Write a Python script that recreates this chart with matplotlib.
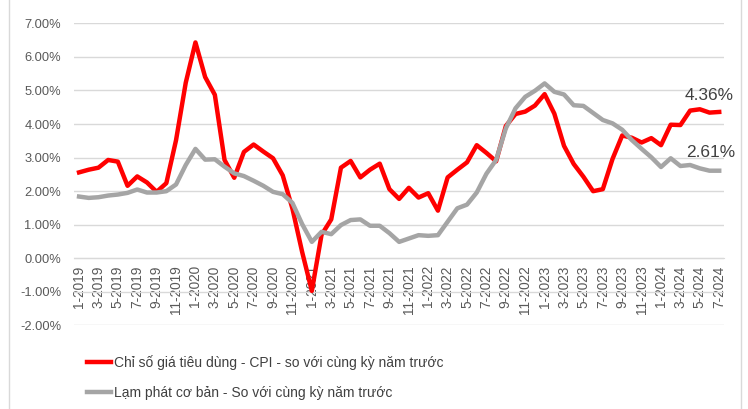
import matplotlib.pyplot as plt
import numpy as np
from matplotlib.lines import Line2D

# monthly labels 1-2019 .. 7-2024
months = ["{}-{}".format(m, y) for y in range(2019, 2025) for m in range(1, 13)][:67]

# CPI, yoy (%)
cpi = [2.56, 2.64, 2.70, 2.93, 2.88, 2.16, 2.44, 2.26, 1.98, 2.24, 3.52, 5.23,
       6.43, 5.40, 4.87, 2.93, 2.40, 3.17, 3.39, 3.18, 2.98, 2.47, 1.48, 0.19,
       -0.97, 0.70, 1.16, 2.70, 2.90, 2.41, 2.64, 2.82, 2.06, 1.77, 2.10, 1.81,
       1.94, 1.42, 2.41, 2.64, 2.86, 3.37, 3.14, 2.89, 3.94, 4.30, 4.37, 4.55,
       4.89, 4.31, 3.35, 2.81, 2.43, 2.00, 2.06, 2.96, 3.66, 3.59, 3.45, 3.58,
       3.37, 3.98, 3.97, 4.40, 4.44, 4.34, 4.36]

# core inflation, yoy (%)
core = [1.84, 1.80, 1.82, 1.87, 1.90, 1.95, 2.05, 1.96, 1.96, 2.00, 2.20, 2.78,
        3.26, 2.94, 2.95, 2.73, 2.53, 2.45, 2.31, 2.16, 1.98, 1.91, 1.65, 1.02,
        0.49, 0.79, 0.72, 0.99, 1.14, 1.16, 0.97, 0.97, 0.75, 0.49, 0.59, 0.69,
        0.67, 0.69, 1.09, 1.49, 1.60, 1.96, 2.52, 2.93, 3.87, 4.47, 4.81, 4.99,
        5.21, 4.96, 4.88, 4.56, 4.54, 4.33, 4.12, 4.02, 3.83, 3.52, 3.26, 3.01,
        2.72, 2.98, 2.75, 2.78, 2.68, 2.61, 2.61]

labels = ["Chỉ số giá tiêu dùng - CPI - so với cùng kỳ năm trước",
          "Lạm phát cơ bản - So với cùng kỳ năm trước"]

plt.rcParams["font.family"] = ["Liberation Sans", "DejaVu Sans"]
txt = "#595959"

fig = plt.figure(figsize=(7.48, 4.09), dpi=100)
ax = fig.add_axes([0.0992, 0.2042, 0.8688, 0.7388])

x = np.arange(len(months))
ax.plot(x, cpi, color="#ff0000", lw=3.2, label=labels[0], zorder=3)
ax.plot(x, core, color="#a5a5a5", lw=3.2, label=labels[1], zorder=3)

ax.set_xlim(-0.5, len(months) - 0.5)
ax.set_ylim(-2, 7)
ax.set_yticks(np.arange(-2, 8, 1))
ax.set_yticklabels(["{:.2f}%".format(v) for v in np.arange(-2, 8, 1)])
ax.grid(axis="y", color="#d9d9d9", lw=1)
ax.set_axisbelow(True)

ax.set_xticks(x[::2])
ax.set_xticklabels(months[::2])
ax.tick_params(axis="x", length=0, pad=5, labelsize=9.8, labelcolor=txt,
               labelrotation=90)
ax.tick_params(axis="y", length=0, pad=9.5, labelsize=9.3, labelcolor=txt)

for s in ["top", "right", "left"]:
    ax.spines[s].set_visible(False)
ax.spines["bottom"].set_position(("data", 0))
ax.spines["bottom"].set_color("#d9d9d9")

# end-of-series labels
ax.annotate("{:.2f}%".format(cpi[-1]), (x[-1], cpi[-1]), xytext=(-7, 12),
            textcoords="offset points", ha="center", va="center",
            fontsize=12.4, color="#404040")
ax.annotate("{:.2f}%".format(core[-1]), (x[-1], core[-1]), xytext=(-6, 13),
            textcoords="offset points", ha="center", va="center",
            fontsize=12.4, color="#404040")

leg = fig.legend(loc="upper left", bbox_to_anchor=(0.1, 0.163), frameon=False,
                 handlelength=1.7, handletextpad=0.2, labelspacing=1.15,
                 prop={"size": 10.0})
for t in leg.get_texts():
    t.set_color("#404040")

# chart frame
for fx in (9 / 748, 741 / 748):
    fig.add_artist(Line2D([fx, fx], [0, 1], color="#d9d9d9", lw=1))

fig.savefig("out.png", dpi=100)
